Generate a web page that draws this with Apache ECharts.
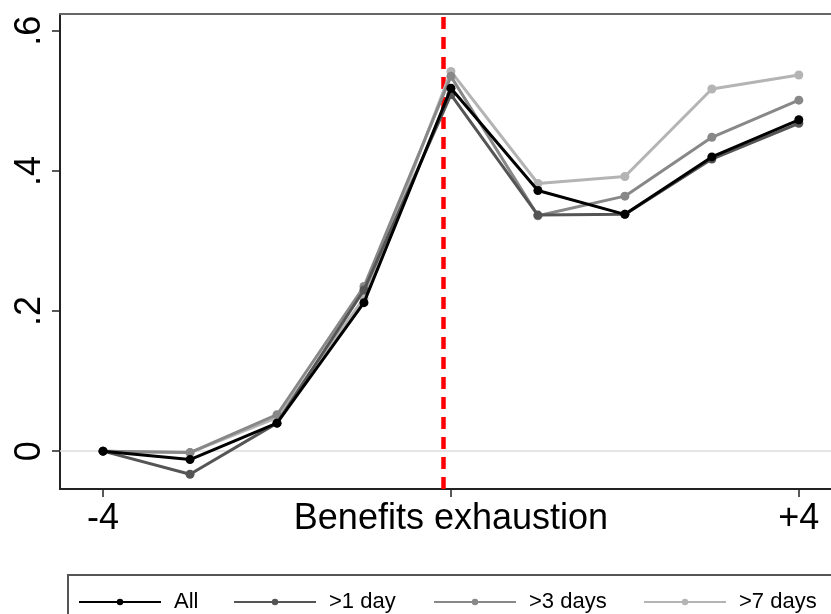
<!DOCTYPE html>
<html>
<head>
<meta charset="utf-8">
<script src="https://cdn.jsdelivr.net/npm/echarts@6/dist/echarts.min.js"></script>
<style>html,body{margin:0;padding:0;background:#fff}#c{width:831px;height:614px}</style>
</head>
<body>
<div id="c"></div>
<script>
const xValues = [-4, -3, -2, -1, 0, 1, 2, 3, 4];
const seriesNames = ['All', '>1 day', '>3 days', '>7 days'];
const allVals = [0, -0.012, 0.040, 0.212, 0.518, 0.372, 0.338, 0.420, 0.473];
const day1Vals = [0, -0.033, 0.040, 0.230, 0.509, 0.337, 0.338, 0.417, 0.468];
const day3Vals = [0, -0.002, 0.052, 0.235, 0.535, 0.336, 0.364, 0.448, 0.501];
const day7Vals = [0, -0.002, 0.048, 0.218, 0.542, 0.382, 0.392, 0.517, 0.537];
const xTickValues = [-4, 0, 4];
const xTickLabels = ['-4', 'Benefits exhaustion', '+4'];
const yTickValues = [0, 0.2, 0.4, 0.6];
const yTickLabels = ['0', '.2', '.4', '.6'];
const exhaustionLine = -0.09;

const colors = ['#000000', '#555555', '#888888', '#b4b4b4'];
const valuesList = [allVals, day1Vals, day3Vals, day7Vals];
const FONT = '"Liberation Sans", Arial, sans-serif';

const chart = echarts.init(document.getElementById('c'), null, {renderer: 'canvas'});

const series = [];
for (let i = seriesNames.length - 1; i >= 0; i--) {
  series.push({
    name: seriesNames[i],
    type: 'line',
    data: xValues.map((x, j) => [x, valuesList[i][j]]),
    symbol: 'circle',
    symbolSize: 9,
    z: 10 - i,
    itemStyle: {color: colors[i]},
    lineStyle: {color: colors[i], width: 3},
    emphasis: {disabled: true},
    animation: false
  });
}
series.push({
  type: 'line',
  data: [],
  silent: true,
  z: 20,
  markLine: {
    silent: true,
    symbol: 'none',
    label: {show: false},
    animation: false,
    data: [
      {yAxis: 0, lineStyle: {color: '#dddddd', width: 1.5, type: 'solid'}, z: 0},
      {xAxis: exhaustionLine, lineStyle: {color: '#ff0000', width: 4.5, type: [12, 8]}}
    ]
  }
});

const legendLefts = [78, 233, 433, 643];
const legends = seriesNames.map((n, i) => ({
  data: [n],
  left: legendLefts[i],
  top: 591,
  itemWidth: 82,
  itemHeight: 8,
  itemGap: 14,
  padding: 0,
  textStyle: {fontSize: 22, color: '#000', fontFamily: FONT, padding: [0, 0, 0, 8]}
}));

chart.setOption({
  animation: false,
  backgroundColor: '#fff',
  grid: {left: 60, top: 14, right: 0, height: 475, show: false},
  legend: legends,
  xAxis: [{
    type: 'value',
    min: -4.495,
    max: 4.37,
    axisLine: {show: true, onZero: false, lineStyle: {color: '#222', width: 2}},
    axisTick: {show: true, length: 8, customValues: xTickValues, lineStyle: {color: '#222', width: 1.5}},
    axisLabel: {
      customValues: xTickValues,
      formatter: v => xTickLabels[xTickValues.indexOf(v)] ?? '',
      fontSize: 36, color: '#000', fontFamily: FONT, margin: 12
    },
    splitLine: {show: false}
  }, {
    type: 'value',
    position: 'top',
    min: -4.495,
    max: 4.37,
    axisLine: {show: true, onZero: false, lineStyle: {color: '#666', width: 2}},
    axisTick: {show: false},
    axisLabel: {show: false},
    splitLine: {show: false}
  }],
  yAxis: {
    type: 'value',
    min: -0.054,
    max: 0.624,
    axisLine: {show: true, onZero: false, lineStyle: {color: '#222', width: 2}},
    axisTick: {show: true, length: 8, customValues: yTickValues, lineStyle: {color: '#222', width: 1.5}},
    axisLabel: {
      customValues: yTickValues,
      formatter: v => { const k = yTickValues.findIndex(t => Math.abs(t - v) < 1e-9); return k >= 0 ? yTickLabels[k] : ''; },
      rotate: 90,
      fontSize: 36, color: '#000', fontFamily: FONT, margin: 12
    },
    splitLine: {show: false}
  },
  graphic: [{
    type: 'rect',
    shape: {x: 68, y: 575, width: 800, height: 100},
    style: {fill: 'none', stroke: '#555', lineWidth: 2},
    silent: true
  }],
  series: series
});
</script>
</body>
</html>
